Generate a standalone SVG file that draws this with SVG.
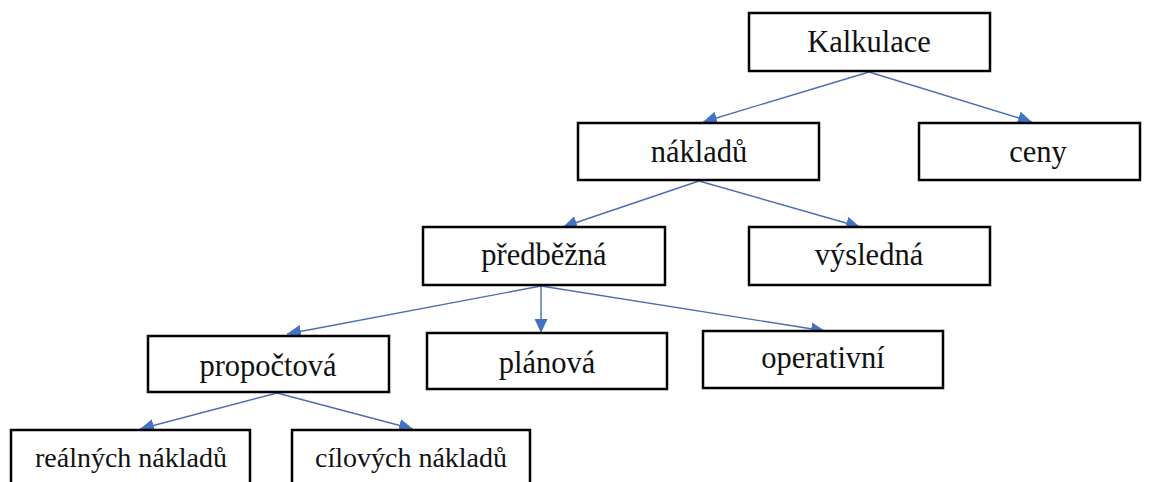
<svg xmlns="http://www.w3.org/2000/svg" width="1150" height="482" viewBox="0 0 1150 482">
<defs>
<style>
.box{fill:#fff;stroke:#000;stroke-width:2.5}
.lbl{font-family:"Liberation Serif","Times New Roman",serif;font-size:30.5px;fill:#111;text-anchor:middle}
.sm{font-size:28px}
.con{stroke:#4a6fb0;stroke-width:1.4;fill:none;marker-end:url(#ah)}
</style>
<marker id="ah" markerUnits="userSpaceOnUse" markerWidth="15" markerHeight="13" refX="14" refY="6.5" orient="auto">
<path d="M0,0 L14,6.5 L0,13 Z" fill="#4472c4"/>
</marker>
</defs>
<rect width="1150" height="482" fill="#fff"/>
<g id="connectors">
<line class="con" x1="869" y1="72" x2="703" y2="122"/>
<line class="con" x1="869" y1="72" x2="1032" y2="122"/>
<line class="con" x1="699" y1="181" x2="563" y2="227"/>
<line class="con" x1="699" y1="181" x2="860" y2="227"/>
<line class="con" x1="541" y1="286" x2="287" y2="334"/>
<line class="con" x1="541" y1="286" x2="541" y2="333"/>
<line class="con" x1="541" y1="286" x2="825" y2="331"/>
<line class="con" x1="277" y1="393" x2="140" y2="429"/>
<line class="con" x1="277" y1="393" x2="413" y2="429"/>
</g>
<g id="kalkulace"><rect class="box" x="749" y="13" width="241" height="58"/><text class="lbl" x="869" y="52">Kalkulace</text></g>
<g id="nakladu"><rect class="box" x="578" y="123" width="241" height="57"/><text class="lbl" x="699" y="162">nákladů</text></g>
<g id="ceny"><rect class="box" x="919" y="123" width="221" height="57"/><text class="lbl" x="1038" y="162">ceny</text></g>
<g id="predbezna"><rect class="box" x="423" y="227" width="242" height="58"/><text class="lbl" x="544" y="265">předběžná</text></g>
<g id="vysledna"><rect class="box" x="749" y="227" width="241" height="58"/><text class="lbl" x="869" y="265">výsledná</text></g>
<g id="propoctova"><rect class="box" x="148" y="336" width="241" height="56"/><text class="lbl" x="268" y="376">propočtová</text></g>
<g id="planova"><rect class="box" x="427" y="333" width="240" height="56"/><text class="lbl" x="547" y="373">plánová</text></g>
<g id="operativni"><rect class="box" x="703" y="331" width="240" height="57"/><text class="lbl" x="823" y="368">operativní</text></g>
<g id="realnych"><rect class="box" x="11" y="430" width="239" height="60"/><text class="lbl sm" x="131" y="467">reálných nákladů</text></g>
<g id="cilovych"><rect class="box" x="292" y="430" width="238" height="60"/><text class="lbl sm" x="411" y="467">cílových nákladů</text></g>
</svg>
